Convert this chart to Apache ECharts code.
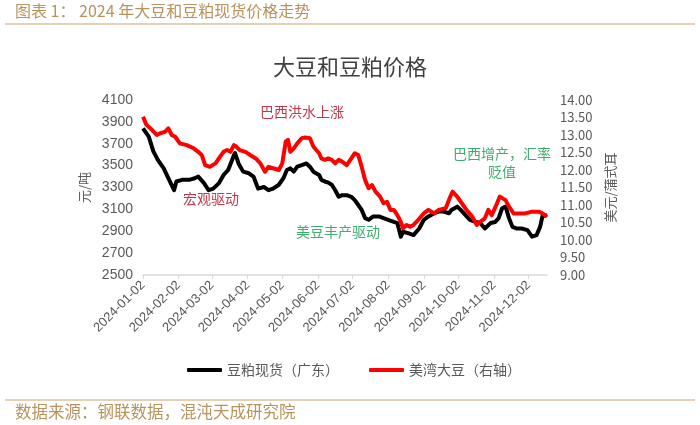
<!DOCTYPE html>
<html>
<head>
<meta charset="utf-8">
<script src="https://cdn.jsdelivr.net/npm/echarts/dist/echarts.min.js"></script>
<style>
html,body{margin:0;padding:0;background:#fff;}
#chart{width:700px;height:425px;}
</style>
</head>
<body>
<div id="chart"></div>
<script>
const xTickLabels = ['2024-01-02','2024-02-02','2024-03-02','2024-04-02','2024-05-02','2024-06-02',
  '2024-07-02','2024-08-02','2024-09-02','2024-10-02','2024-11-02','2024-12-02'];
const xStart = '2024-01-02';
const xEnd = '2024-12-18';

const leftTicks = { min: 2500, max: 4100, interval: 200 };
const rightTicks = { min: 9, max: 14, interval: 0.5 };

const seriesNames = ['豆粕现货（广东）', '美湾大豆（右轴）'];

// 豆粕现货（广东），元/吨
const mealSpotGuangdong = [
['2024-01-02',3840],['2024-01-07',3765],['2024-01-11',3630],['2024-01-15',3550],['2024-01-20',3475],
['2024-01-24',3385],['2024-01-29',3275],['2024-01-31',3355],['2024-02-05',3370],['2024-02-11',3370],
['2024-02-16',3385],['2024-02-19',3400],['2024-02-24',3340],['2024-02-28',3275],['2024-03-03',3290],
['2024-03-08',3340],['2024-03-12',3415],['2024-03-16',3460],['2024-03-21',3595],['2024-03-22',3615],
['2024-03-25',3520],['2024-03-29',3445],['2024-04-03',3430],['2024-04-07',3400],['2024-04-11',3290],
['2024-04-16',3305],['2024-04-20',3275],['2024-04-24',3290],['2024-04-29',3325],['2024-05-03',3385],
['2024-05-06',3460],['2024-05-09',3475],['2024-05-12',3445],['2024-05-15',3490],['2024-05-19',3505],
['2024-05-23',3520],['2024-05-26',3490],['2024-05-29',3445],['2024-06-03',3415],['2024-06-05',3370],
['2024-06-08',3355],['2024-06-11',3345],['2024-06-14',3325],['2024-06-17',3275],['2024-06-20',3215],
['2024-06-23',3230],['2024-06-27',3230],['2024-07-01',3215],['2024-07-04',3185],['2024-07-07',3140],
['2024-07-10',3095],['2024-07-13',3020],['2024-07-16',3005],['2024-07-20',3035],['2024-07-25',3035],
['2024-07-29',3020],['2024-08-02',3005],['2024-08-07',2985],['2024-08-10',2975],['2024-08-13',2850],
['2024-08-15',2895],['2024-08-20',2880],['2024-08-24',2865],['2024-08-29',2925],['2024-09-02',3005],
['2024-09-06',3035],['2024-09-11',3065],['2024-09-15',3080],['2024-09-19',3080],['2024-09-24',3065],
['2024-09-26',3095],['2024-10-01',3125],['2024-10-04',3095],['2024-10-08',3050],['2024-10-12',3005],
['2024-10-17',2985],['2024-10-21',2975],['2024-10-25',2925],['2024-10-30',2975],['2024-11-03',2985],
['2024-11-06',3020],['2024-11-09',3110],['2024-11-12',3125],['2024-11-15',3020],['2024-11-18',2940],
['2024-11-22',2925],['2024-11-26',2925],['2024-12-01',2910],['2024-12-05',2850],['2024-12-09',2865],
['2024-12-12',2940],['2024-12-14',3035],['2024-12-18',3050]
];

// 美湾大豆，美元/蒲式耳（右轴）
const usGulfSoybean = [
['2024-01-02',13.52],['2024-01-05',13.29],['2024-01-10',13.14],['2024-01-14',13.00],['2024-01-17',13.05],
['2024-01-21',13.09],['2024-01-24',13.19],['2024-01-27',13.00],['2024-01-30',12.95],['2024-02-03',12.76],
['2024-02-09',12.71],['2024-02-15',12.62],['2024-02-19',12.52],['2024-02-22',12.43],['2024-02-25',12.14],
['2024-02-29',12.09],['2024-03-05',12.19],['2024-03-09',12.38],['2024-03-12',12.52],['2024-03-15',12.57],
['2024-03-18',12.52],['2024-03-21',12.71],['2024-03-23',12.67],['2024-03-26',12.57],['2024-03-31',12.52],
['2024-04-04',12.43],['2024-04-09',12.33],['2024-04-13',12.19],['2024-04-17',11.95],['2024-04-20',12.09],
['2024-04-24',12.05],['2024-04-29',12.00],['2024-05-02',12.19],['2024-05-05',12.81],['2024-05-07',12.86],
['2024-05-09',12.52],['2024-05-12',12.62],['2024-05-15',12.76],['2024-05-19',12.91],['2024-05-22',12.93],
['2024-05-26',12.91],['2024-05-29',12.67],['2024-06-03',12.48],['2024-06-05',12.33],['2024-06-08',12.29],
['2024-06-11',12.33],['2024-06-14',12.29],['2024-06-17',12.19],['2024-06-20',12.29],['2024-06-23',12.24],
['2024-06-27',12.14],['2024-07-01',12.33],['2024-07-04',12.48],['2024-07-07',12.43],['2024-07-10',12.09],
['2024-07-13',11.71],['2024-07-16',11.48],['2024-07-19',11.57],['2024-07-22',11.38],['2024-07-26',11.24],
['2024-07-29',11.05],['2024-08-01',11.09],['2024-08-04',10.86],['2024-08-07',10.86],['2024-08-10',10.71],
['2024-08-13',10.52],['2024-08-15',10.33],['2024-08-18',10.43],['2024-08-21',10.38],['2024-08-24',10.43],
['2024-08-28',10.57],['2024-09-02',10.76],['2024-09-06',10.86],['2024-09-11',10.76],['2024-09-15',10.86],
['2024-09-21',10.91],['2024-09-25',11.24],['2024-09-27',11.38],['2024-10-01',11.24],['2024-10-05',11.05],
['2024-10-09',10.86],['2024-10-14',10.67],['2024-10-18',10.43],['2024-10-21',10.52],['2024-10-25',10.62],
['2024-10-28',10.86],['2024-10-31',10.71],['2024-11-04',11.00],['2024-11-07',11.24],['2024-11-12',11.14],
['2024-11-15',10.95],['2024-11-19',10.76],['2024-11-23',10.76],['2024-11-29',10.76],['2024-12-05',10.81],
['2024-12-11',10.81],['2024-12-14',10.76],['2024-12-18',10.67]
];

const annotations = [
  { text: '巴西洪水上涨', color: '#c0394a' },
  { text: '宏观驱动', color: '#c0394a' },
  { text: '美豆丰产驱动', color: '#3dae6e' },
  { text: '巴西增产，汇率\n贬值', color: '#3dae6e' }
];

function toTime(s) {
  const p = s.split('-').map(Number);
  return Date.UTC(p[0], p[1] - 1, p[2]);
}
function fmtDate(v) {
  const d = new Date(v);
  const m = String(d.getUTCMonth() + 1).padStart(2, '0');
  const dd = String(d.getUTCDate()).padStart(2, '0');
  return d.getUTCFullYear() + '-' + m + '-' + dd;
}

const tickValues = xTickLabels.map(toTime);
const gold = '#b8935e';
const goldLine = '#d8c29c';
const axisGray = '#595959';
const cjk = '"Noto Sans CJK SC", sans-serif';
const latin = '"Liberation Sans", Arial, sans-serif';

const chart = echarts.init(document.getElementById('chart'), null, { renderer: 'canvas' });
chart.setOption({
  animation: false,
  backgroundColor: '#ffffff',
  title: {
    text: '大豆和豆粕价格',
    left: 'center',
    top: 51,
    textStyle: { fontFamily: cjk, fontSize: 22, fontWeight: 'normal', color: '#404040' }
  },
  legend: {
    top: 358,
    left: 182,
    itemWidth: 35,
    itemHeight: 4,
    itemGap: 30,
    icon: 'roundRect',
    textStyle: { fontFamily: cjk, fontSize: 14, color: axisGray },
    data: seriesNames
  },
  grid: { left: 143, right: 153, top: 100, bottom: 150 },
  xAxis: {
    type: 'value',
    min: toTime(xStart),
    max: toTime(xEnd),
    axisLine: { show: true, lineStyle: { color: '#d9d9d9', width: 1.5 } },
    axisTick: { show: true, length: 4, customValues: tickValues, lineStyle: { color: '#d9d9d9', width: 1.2 } },
    axisLabel: {
      customValues: tickValues,
      rotate: 45,
      margin: 8,
      formatter: (v) => fmtDate(v),
      fontFamily: latin,
      fontSize: 13,
      color: axisGray,
      hideOverlap: false
    },
    splitLine: { show: false }
  },
  yAxis: [
    {
      type: 'value',
      min: leftTicks.min, max: leftTicks.max, interval: leftTicks.interval,
      position: 'left',
      name: '元/吨',
      nameLocation: 'middle',
      nameRotate: 90,
      nameGap: 45,
      nameTextStyle: { fontFamily: cjk, fontSize: 13, color: axisGray },
      axisLine: { show: false },
      axisTick: { show: false },
      splitLine: { show: false },
      axisLabel: { fontFamily: latin, fontSize: 14, color: axisGray, margin: 10, formatter: (v) => String(v) }
    },
    {
      type: 'value',
      min: rightTicks.min, max: rightTicks.max, interval: rightTicks.interval,
      position: 'right',
      name: '美元/蒲式耳',
      nameLocation: 'middle',
      nameRotate: 90,
      nameGap: 56,
      nameTextStyle: { fontFamily: cjk, fontSize: 13, color: axisGray },
      axisLine: { show: false },
      axisTick: { show: false },
      splitLine: { show: false },
      axisLabel: { fontFamily: cjk, fontSize: 13, color: axisGray, margin: 13, formatter: (v) => v.toFixed(2) }
    }
  ],
  series: [
    {
      name: seriesNames[0],
      type: 'line',
      yAxisIndex: 0,
      data: mealSpotGuangdong.map(p => [toTime(p[0]), p[1]]),
      showSymbol: false,
      symbol: 'none',
      itemStyle: { color: '#000000' },
      lineStyle: { color: '#000000', width: 4, join: 'round' }
    },
    {
      name: seriesNames[1],
      type: 'line',
      yAxisIndex: 1,
      data: usGulfSoybean.map(p => [toTime(p[0]), p[1]]),
      showSymbol: false,
      symbol: 'none',
      itemStyle: { color: '#ff0000' },
      lineStyle: { color: '#ff0000', width: 4, join: 'round' }
    }
  ],
  graphic: [
    { type: 'text', left: 15, top: 3, style: { text: '图表 1： 2024 年大豆和豆粕现货价格走势', fill: gold, font: '16px ' + cjk } },
    { type: 'line', shape: { x1: 5, y1: 24, x2: 695, y2: 24 }, style: { stroke: goldLine, lineWidth: 1.5 } },
    { type: 'line', shape: { x1: 5, y1: 400, x2: 695, y2: 400 }, style: { stroke: goldLine, lineWidth: 1.5 } },
    { type: 'text', left: 15, top: 403, style: { text: '数据来源：钢联数据，混沌天成研究院', fill: gold, font: '16.5px ' + cjk } },
    { type: 'text', x: 260, y: 112, style: { text: annotations[0].text, fill: annotations[0].color, font: '14px ' + cjk, verticalAlign: 'middle' } },
    { type: 'text', x: 183, y: 199, style: { text: annotations[1].text, fill: annotations[1].color, font: '14px ' + cjk, verticalAlign: 'middle' } },
    { type: 'text', x: 296, y: 232, style: { text: annotations[2].text, fill: annotations[2].color, font: '14px ' + cjk, verticalAlign: 'middle' } },
    { type: 'text', x: 502, y: 145, style: { text: annotations[3].text, fill: annotations[3].color, font: '14px ' + cjk, align: 'center', verticalAlign: 'top', lineHeight: 18 } }
  ]
});
</script>
</body>
</html>
